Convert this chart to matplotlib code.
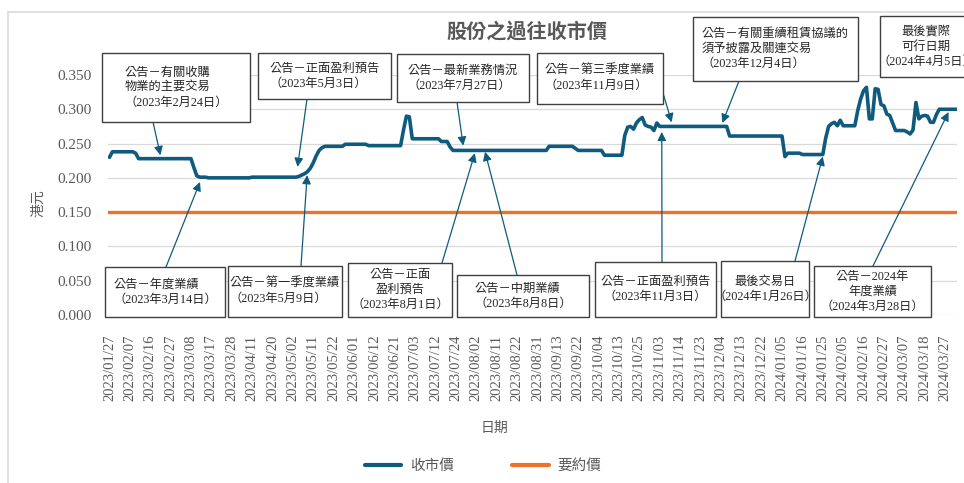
import matplotlib
matplotlib.use("Agg")
import matplotlib.pyplot as plt
import matplotlib.patches as mpatches
from matplotlib.lines import Line2D
import numpy as np

# ---------------------------------------------------------------- data
# 交易日標籤（每 7 個交易日一個）
tick_labels = [
    "2023/01/27", "2023/02/07", "2023/02/16", "2023/02/27", "2023/03/08", "2023/03/17",
    "2023/03/28", "2023/04/11", "2023/04/20", "2023/05/02", "2023/05/11", "2023/05/22",
    "2023/06/01", "2023/06/12", "2023/06/21", "2023/07/03", "2023/07/12", "2023/07/24",
    "2023/08/02", "2023/08/11", "2023/08/22", "2023/08/31", "2023/09/13", "2023/09/22",
    "2023/10/04", "2023/10/13", "2023/10/25", "2023/11/03", "2023/11/14", "2023/11/23",
    "2023/12/04", "2023/12/13", "2023/12/22", "2024/01/05", "2024/01/16", "2024/01/25",
    "2024/02/05", "2024/02/16", "2024/02/27", "2024/03/07", "2024/03/18", "2024/03/27",
]
tick_step = 7

# 收市價 (value, number of trading days)
close_runs = [
    (0.230, 1), (0.238, 8), (0.236, 1), (0.228, 19), (0.215, 1), (0.203, 1),
    (0.201, 3), (0.200, 15), (0.201, 16),
    (0.202, 1), (0.204, 1), (0.206, 1), (0.209, 1), (0.214, 1), (0.222, 1),
    (0.232, 1), (0.240, 1), (0.244, 1),
    (0.246, 7), (0.249, 8), (0.247, 12), (0.270, 1), (0.290, 1), (0.289, 1),
    (0.257, 10), (0.253, 3), (0.245, 1),
    (0.240, 33), (0.246, 9), (0.243, 1), (0.240, 9), (0.233, 7),
    (0.262, 1), (0.274, 1), (0.275, 1), (0.271, 1), (0.280, 1), (0.285, 1),
    (0.288, 1), (0.277, 1), (0.275, 1), (0.274, 1), (0.269, 1), (0.280, 1),
    (0.275, 24), (0.261, 19), (0.231, 1), (0.236, 5), (0.234, 8),
    (0.258, 1), (0.275, 1), (0.279, 1), (0.281, 1), (0.276, 1), (0.284, 1), (0.276, 5),
    (0.298, 1), (0.315, 1), (0.327, 1), (0.332, 1), (0.286, 2), (0.330, 1),
    (0.329, 1), (0.307, 1), (0.305, 1), (0.293, 1), (0.291, 1), (0.280, 1),
    (0.269, 4), (0.267, 1), (0.264, 1), (0.270, 1), (0.310, 1), (0.286, 1),
    (0.290, 1), (0.291, 1), (0.290, 1), (0.281, 2), (0.292, 1), (0.300, 7),
]
offer_price = 0.150

# 公告：(box x0, y0, x1, y1 in image px), text, alignment, arrow start (px), arrow tip (day index, price)
notes = [
    ((102, 53, 250, 122), "公告－有關收購\n物業的主要交易\n（2023年2月24日）", "left", (153, 122), (17.5, 0.233)),
    ((258, 53, 391, 99), "公告－正面盈利預告\n（2023年5月3日）", "left", (307, 99), (64.6, 0.216)),
    ((397, 54, 529, 102), "公告－最新業務情況\n（2023年7月27日）", "left", (457, 102), (121.5, 0.247)),
    ((537, 53, 663, 104), "公告－第三季度業績\n（2023年11月9日）", "left", (663, 93), (193.1, 0.281)),
    ((693, 17, 858, 81), "公告－有關重續租賃協議的\n須予披露及關連交易\n（2023年12月4日）", "left", (739, 81), (210.5, 0.280)),
    ((880, 16, 972, 77), "最後實際\n可行日期\n（2024年4月5日）", "center", (958, 77), (291.6, 0.308)),
    ((105, 267, 225, 317), "公告－年度業績\n（2023年3月14日）", "left", (166, 267), (31.1, 0.194)),
    ((228, 266, 342, 317), "公告－第一季度業績\n（2023年5月9日）", "left", (301, 266), (67.9, 0.204)),
    ((348, 263, 452, 317), "公告－正面\n盈利預告\n（2023年8月1日）", "center", (442, 263), (125.5, 0.236)),
    ((457, 275, 589, 317), "公告－中期業績\n（2023年8月8日）", "left", (517, 275), (129.0, 0.238)),
    ((595, 262, 716, 317), "公告－正面盈利預告\n（2023年11月3日）", "center", (662, 262), (189.7, 0.267)),
    ((721, 261, 809, 317), "最後交易日\n（2024年1月26日）", "center", (795, 261), (245.0, 0.231)),
    ((814, 266, 931, 317), "公告－2024年\n年度業績\n（2024年3月28日）", "center", (873, 266), (288.2, 0.296)),
]

# ---------------------------------------------------------------- plot
W, H = 964, 483
BLUE = "#0f5b7e"
ORANGE = "#ed7228"
GREY = "#595959"
FONT = ["Liberation Serif", "Noto Sans CJK TC", "DejaVu Sans"]
plt.rcParams["font.family"] = FONT

close = np.concatenate([np.full(n, v) for v, n in close_runs])
days = np.arange(len(close))

fig = plt.figure(figsize=(W / 100, H / 100), dpi=100)
ax = fig.add_axes([108 / W, 1 - 315 / H, (957 - 108) / W, (315 - 75) / H])

# figure frame (Excel chart area)
fig.add_artist(mpatches.Rectangle((8 / W, -0.1), 1.2, 1 - 12 / H + 0.1,
                                  transform=fig.transFigure, fill=False,
                                  edgecolor="#d9d9d9", lw=1.2))

ax.plot(days, close, color=BLUE, lw=2.6, solid_joinstyle="round", solid_capstyle="round", zorder=3)
ax.plot(days, np.full(len(days), offer_price), color=ORANGE, lw=2.4, zorder=2)

ax.set_xlim(-0.5, len(days) - 0.9)
ax.set_ylim(0, 0.35)
ax.set_yticks(np.arange(0, 0.351, 0.05))
ax.yaxis.set_major_formatter(matplotlib.ticker.FormatStrFormatter("%.3f"))
ax.set_xticks(np.arange(len(tick_labels)) * tick_step)
ax.set_xticklabels(tick_labels, rotation=90)
ax.tick_params(axis="both", length=0, colors=GREY)
ax.tick_params(axis="x", pad=14, labelsize=10.5)
ax.tick_params(axis="y", pad=12, labelsize=11)
ax.grid(axis="y", color="#d9d9d9", lw=0.9)
ax.set_axisbelow(True)
for s in ax.spines.values():
    s.set_visible(False)

fig.text(527 / W, 1 - 31 / H, "股份之過往收市價", ha="center", va="center",
         fontsize=14.5, fontweight="bold", color=GREY, family=["Noto Sans CJK TC"])
fig.text(38 / W, 1 - 203 / H, "港元", rotation=90, ha="center", va="center",
         fontsize=10, color=GREY, family=["Noto Sans CJK TC"])
fig.text(494 / W, 1 - 428 / H, "日期", ha="center", va="center",
         fontsize=10, color=GREY, family=["Noto Sans CJK TC"])

handles = [Line2D([], [], color=BLUE, lw=3, solid_capstyle="round"),
           Line2D([], [], color=ORANGE, lw=3, solid_capstyle="round")]
fig.legend(handles, ["收市價", "要約價"], loc="center", bbox_to_anchor=(483 / W, 1 - 466 / H),
           ncol=2, frameon=False, handlelength=2.5, columnspacing=4.0, handletextpad=0.6,
           prop={"family": ["Noto Sans CJK TC"], "size": 10.5}, labelcolor=GREY)

# annotation boxes and arrows
for (x0, y0, x1, y1), text, align, start, tip in notes:
    fig.add_artist(mpatches.Rectangle((x0 / W, 1 - y1 / H), (x1 - x0) / W, (y1 - y0) / H,
                                      transform=fig.transFigure, facecolor="white",
                                      edgecolor="#404040", lw=1.0, zorder=5))
    fig.text((x0 + x1) / 2 / W, 1 - (y0 + y1) / 2 / H, text, ha="center", va="center",
             multialignment=align, fontsize=8.8, color="#262626", linespacing=1.33, zorder=6)
    ax.annotate("", xy=tip, xycoords="data", xytext=(start[0], H - start[1]),
                textcoords="figure pixels",
                arrowprops=dict(arrowstyle="-|>", color=BLUE, lw=0.9, mutation_scale=13,
                                shrinkA=0, shrinkB=0), zorder=7)

fig.savefig("out.png", dpi=100)
